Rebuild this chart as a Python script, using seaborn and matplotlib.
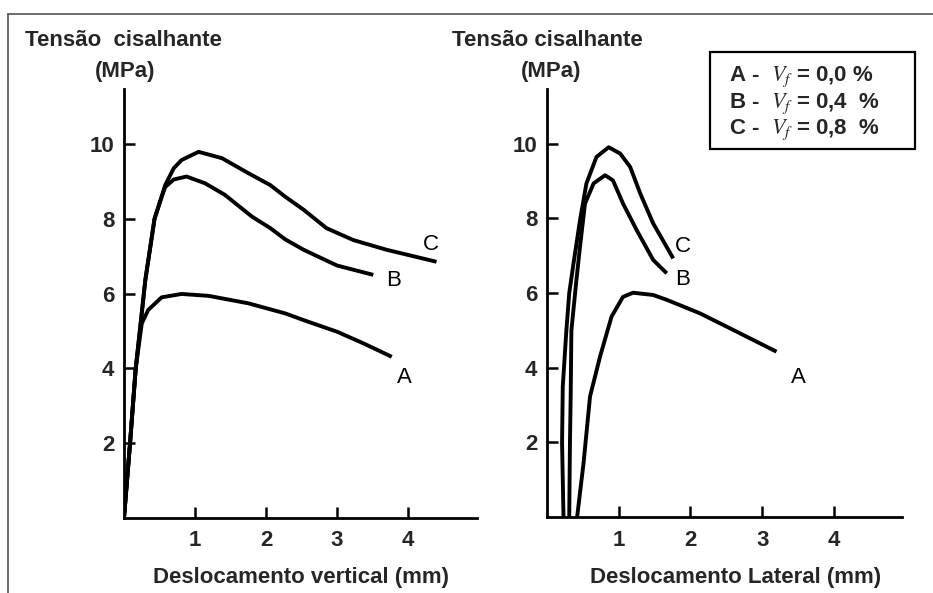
import matplotlib
matplotlib.use("Agg")
import matplotlib.pyplot as plt
import seaborn as sns
import pandas as pd
from matplotlib.lines import Line2D
from matplotlib.patches import Rectangle

# ---------------- data ----------------
series_names = ["A", "B", "C"]
legend_lines = ["A -  $V_f$ = 0,0 %", "B -  $V_f$ = 0,4  %", "C -  $V_f$ = 0,8  %"]
y_ticks = [2, 4, 6, 8, 10]
x_ticks = [1, 2, 3, 4]
y_title = "Tensão cisalhante"
y_units = "(MPa)"
left_xlabel = "Deslocamento vertical (mm)"
right_xlabel = "Deslocamento Lateral (mm)"

# Left panel: vertical displacement
left_A_x = [0, 0.085, 0.165, 0.25, 0.34, 0.53, 0.81, 1.19, 1.75, 2.27, 2.53, 3.0, 3.37, 3.77]
left_A_y = [0, 2.0, 4.0, 5.2, 5.56, 5.90, 5.99, 5.94, 5.74, 5.47, 5.29, 4.98, 4.67, 4.31]
left_B_x = [0, 0.085, 0.165, 0.24, 0.30, 0.43, 0.53, 0.58, 0.70, 0.88, 1.14, 1.42, 1.80, 2.06, 2.27, 2.53, 3.0, 3.51]
left_B_y = [0, 2.0, 4.0, 5.3, 6.36, 8.0, 8.59, 8.85, 9.05, 9.13, 8.95, 8.64, 8.06, 7.75, 7.45, 7.17, 6.75, 6.50]
left_C_x = [0, 0.085, 0.165, 0.24, 0.30, 0.43, 0.53, 0.58, 0.70, 0.81, 1.05, 1.38, 1.75, 2.06, 2.27, 2.53, 2.85, 3.23, 3.70, 4.40]
left_C_y = [0, 2.0, 4.0, 5.3, 6.36, 8.0, 8.59, 8.9, 9.35, 9.57, 9.79, 9.62, 9.22, 8.9, 8.59, 8.24, 7.75, 7.43, 7.17, 6.85]

# Right panel: lateral displacement
right_A_x = [0.42, 0.51, 0.60, 0.74, 0.90, 1.06, 1.20, 1.48, 1.67, 2.13, 2.60, 3.20]
right_A_y = [0, 1.45, 3.23, 4.30, 5.37, 5.90, 6.01, 5.95, 5.82, 5.46, 5.01, 4.43]
right_B_x = [0.31, 0.32, 0.33, 0.34, 0.41, 0.46, 0.53, 0.65, 0.81, 0.92, 1.06, 1.25, 1.48, 1.67]
right_B_y = [0, 2.0, 3.2, 5.0, 6.35, 7.24, 8.40, 8.94, 9.16, 9.02, 8.40, 7.69, 6.89, 6.53]
right_C_x = [0.23, 0.21, 0.22, 0.27, 0.31, 0.37, 0.46, 0.55, 0.69, 0.86, 1.02, 1.16, 1.30, 1.48, 1.76]
right_C_y = [0, 2.0, 3.5, 5.0, 6.0, 6.80, 7.95, 8.94, 9.65, 9.91, 9.74, 9.38, 8.67, 7.87, 6.93]

# curve-end label anchors (data coords)
left_label_x = [3.95, 3.79, 4.32]
left_label_y = [3.75, 6.34, 7.30]
right_label_x = [3.51, 1.89, 1.89]
right_label_y = [3.73, 6.37, 7.26]

# ---------------- build frames ----------------
def frame(xs, ys):
    rows = []
    for name, x, y in zip(series_names, xs, ys):
        for i, (a, b) in enumerate(zip(x, y)):
            rows.append({"serie": name, "order": i, "x": a, "y": b})
    return pd.DataFrame(rows)

df_left = frame([left_A_x, left_B_x, left_C_x], [left_A_y, left_B_y, left_C_y])
df_right = frame([right_A_x, right_B_x, right_C_x], [right_A_y, right_B_y, right_C_y])

# ---------------- style ----------------
sns.set_style("white")
plt.rcParams["font.family"] = ["Liberation Sans", "DejaVu Sans"]
plt.rcParams["mathtext.fontset"] = "stix"

W, H = 933, 593
fig = plt.figure(figsize=(W / 100, H / 100), dpi=100)

def px_rect(x0, x1, y_top, y_bot):
    return [x0 / W, (H - y_bot) / H, (x1 - x0) / W, (y_bot - y_top) / H]

ax_l = fig.add_axes(px_rect(124, 477, 89, 518))
ax_r = fig.add_axes(px_rect(547, 902, 89, 517))

palette = {n: "black" for n in series_names}
for ax, df, lx, ly, xmax in [
    (ax_l, df_left, left_label_x, left_label_y, 4.97),
    (ax_r, df_right, right_label_x, right_label_y, 4.95),
]:
    sns.lineplot(data=df, x="x", y="y", hue="serie", units="serie", estimator=None,
                 sort=False, palette=palette, linewidth=2.8, legend=False, ax=ax,
                 solid_joinstyle="round", solid_capstyle="butt")
    ax.set_xlim(0, xmax)
    ax.set_ylim(0, 11.47)
    ax.set_xticks(x_ticks)
    ax.set_yticks(y_ticks)
    ax.set_xticklabels([str(t) for t in x_ticks], fontsize=16, fontweight="bold")
    ax.set_yticklabels([str(t) for t in y_ticks], fontsize=16, fontweight="bold")
    ax.tick_params(bottom=True, left=True, direction="in", length=8, width=1.8, color="black")
    ax.tick_params(axis="x", pad=9)
    ax.tick_params(axis="y", pad=7)
    for s in ["top", "right"]:
        ax.spines[s].set_visible(False)
    for s in ["left", "bottom"]:
        ax.spines[s].set_linewidth(2.0)
        ax.spines[s].set_color("black")
    ax.set_xlabel("")
    ax.set_ylabel("")
    ax.patch.set_alpha(0)
    for name, x, y in zip(series_names, lx, ly):
        ax.text(x, y, name, fontsize=16, ha="center", va="center", color="black")

# titles / labels (figure pixel placement)
def ftext(x, y, s, **kw):
    fig.text(x / W, 1 - y / H, s, **kw)

ftext(25, 41, "Tensão  cisalhante", fontsize=16, fontweight="bold", ha="left", va="center")
ftext(125, 71, y_units, fontsize=16, fontweight="bold", ha="center", va="center")
ftext(452, 41, y_title, fontsize=16, fontweight="bold", ha="left", va="center")
ftext(551, 71, y_units, fontsize=16, fontweight="bold", ha="center", va="center")
ftext(301, 578, left_xlabel, fontsize=16, fontweight="bold", ha="center", va="center")
ftext(736, 578, right_xlabel, fontsize=16, fontweight="bold", ha="center", va="center")

# legend box
fig.patches.append(Rectangle((710 / W, 1 - 149 / H), 205 / W, 97 / H, transform=fig.transFigure,
                             fill=False, edgecolor="black", linewidth=1.6))
for i, s in enumerate(legend_lines):
    ftext(729, 77 + 26.5 * i, s, fontsize=16, fontweight="bold", ha="left", va="center")

# outer frame of the original figure
fig.add_artist(Line2D([8 / W, 1], [1 - 14 / H, 1 - 14 / H], transform=fig.transFigure,
                      color="#555555", linewidth=1.2))
fig.add_artist(Line2D([8 / W, 8 / W], [0, 1 - 14 / H], transform=fig.transFigure,
                      color="#555555", linewidth=1.2))

fig.savefig("out.png", dpi=100)
